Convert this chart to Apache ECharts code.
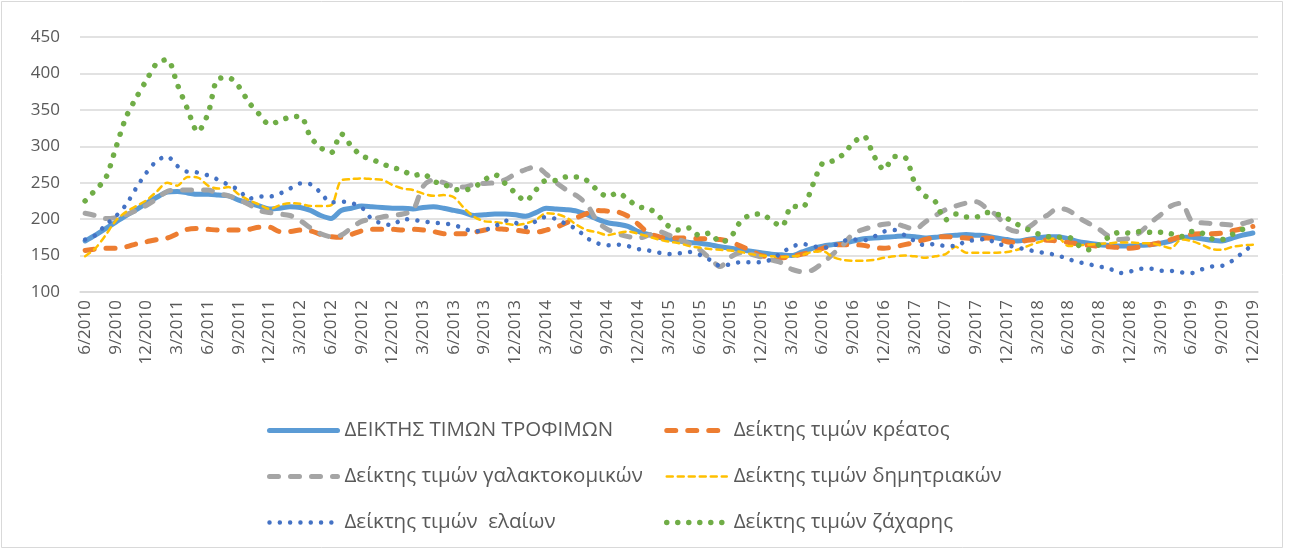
<!DOCTYPE html>
<html>
<head>
<meta charset="utf-8">
<script src="https://cdn.jsdelivr.net/npm/echarts@6/dist/echarts.min.js"></script>
<style>
  html, body { margin: 0; padding: 0; background: #fff; }
  #chart { width: 1291px; height: 550px; }
</style>
</head>
<body>
<div id="chart"></div>
<script>
// monthly categories 6/2010 .. 12/2019
const categories = [];
for (let y = 2010; y <= 2019; y++) {
  for (let m = 1; m <= 12; m++) {
    if (y === 2010 && m < 6) continue;
    categories.push(m + '/' + y);
  }
}

const yTicks = [100, 150, 200, 250, 300, 350, 400, 450];

const seriesNames = [
  'ΔΕΙΚΤΗΣ ΤΙΜΩΝ ΤΡΟΦΙΜΩΝ',
  'Δείκτης τιμών κρέατος',
  'Δείκτης τιμών γαλακτοκομικών',
  'Δείκτης τιμών δημητριακών',
  'Δείκτης τιμών  ελαίων',
  'Δείκτης τιμών ζάχαρης'
];

const foodIndex = [
  170, 178, 187, 196, 205, 213, 222, 230, 237, 238, 236, 234, 234, 233, 232, 226, 222, 218, 214, 215,
  217, 216, 212, 205, 201, 212, 215, 218, 217, 216, 215, 215, 214, 216, 217, 215, 212, 209, 205, 206,
  207, 207, 206, 204, 209, 215, 214, 213, 211, 206, 200, 195, 193, 190, 183, 179, 175, 173, 170, 168,
  167, 165, 162, 160, 158, 156, 154, 152, 151, 150, 155, 160, 163, 165, 167, 170, 173, 174, 175, 176,
  177, 176, 174, 175, 177, 178, 179, 178, 177, 174, 172, 170, 172, 174, 176, 176, 173, 169, 167, 165,
  164, 163, 163, 164, 165, 167, 170, 175, 175, 173, 171, 170, 174, 178, 181
];

const meat = [
  157, 159, 160, 160, 162, 166, 169, 172, 174, 180, 186, 187, 186, 185, 185, 185, 186, 189, 189, 183,
  183, 185, 184, 179, 176, 175, 179, 184, 186, 186, 186, 185, 186, 185, 183, 180, 180, 180, 182, 185,
  187, 186, 185, 183, 182, 185, 189, 195, 202, 208, 212, 211, 210, 204, 193, 181, 176, 174, 174, 174,
  173, 173, 172, 169, 163, 157, 150, 148, 147, 149, 152, 155, 160, 164, 165, 165, 164, 161, 160, 162,
  165, 168, 172, 175, 176, 175, 174, 173, 174, 173, 169, 168, 171, 172, 171, 170, 168, 166, 164, 163,
  162, 161, 160, 162, 165, 168, 172, 176, 179, 180, 180, 181, 184, 187, 190
];

const dairy = [
  208, 205, 201, 202, 206, 212, 219, 228, 238, 240, 240, 240, 240, 235, 232, 227, 220, 212, 209, 207,
  205, 198, 188, 180, 176, 178, 188, 197, 200, 203, 205, 207, 212, 245, 254, 250, 245, 244, 248, 249,
  250, 254, 262, 268, 272, 262, 250, 240, 232, 220, 197, 186, 180, 176, 174, 178, 183, 178, 172, 166,
  158, 146, 135, 148, 154, 152, 148, 144, 140, 131, 128, 130, 140, 152, 165, 180, 186, 190, 193, 194,
  190, 186, 196, 205, 213, 218, 222, 224, 215, 205, 188, 183, 188, 198, 206, 215, 212, 202, 194, 186,
  176, 172, 174, 182, 195, 206, 218, 222, 198, 195, 194, 193, 192, 194, 198
];

const cereals = [
  149, 160, 178, 198, 210, 218, 226, 238, 250, 246, 258, 257, 246, 242, 244, 234, 226, 220, 214, 219,
  222, 221, 218, 218, 219, 253, 255, 256, 255, 254, 247, 242, 240, 235, 232, 233, 230, 215, 203, 197,
  196, 194, 192, 194, 199, 208, 207, 202, 192, 185, 182, 178, 181, 183, 180, 176, 172, 169, 167, 163,
  161, 159, 158, 157, 155, 152, 150, 149, 148, 149, 151, 155, 156, 148, 144, 143, 143, 144, 147, 149,
  150, 149, 147, 149, 152, 162, 154, 154, 154, 154, 155, 158, 163, 168, 172, 174, 163, 164, 165, 166,
  167, 168, 168, 167, 167, 164, 160, 172, 170, 165, 159, 158, 162, 164, 165
];

const oils = [
  172, 178, 192, 204, 220, 243, 264, 280, 286, 273, 265, 264, 260, 254, 247, 240, 228, 231, 231, 235,
  242, 249, 248, 236, 223, 224, 222, 216, 200, 194, 192, 200, 199, 197, 195, 194, 192, 187, 183, 185,
  190, 198, 195, 189, 197, 203, 200, 193, 186, 174, 167, 164, 165, 163, 159, 157, 154, 152, 153, 155,
  151, 144, 136, 138, 141, 141, 141, 145, 154, 162, 166, 163, 161, 163, 170, 172, 171, 176, 183, 185,
  178, 170, 164, 166, 163, 163, 170, 171, 173, 166, 164, 161, 158, 155, 153, 150, 145, 141, 138, 135,
  132, 126, 128, 132, 132, 129, 129, 127, 126, 131, 135, 136, 143, 154, 165
];

const sugar = [
  225, 240, 256, 298, 340, 367, 391, 414, 419, 385, 351, 320, 345, 393, 394, 382, 360, 344, 330, 335,
  340, 341, 313, 298, 291, 317, 300, 287, 282, 276, 271, 267, 260, 262, 252, 248, 241, 240, 244, 254,
  261, 249, 236, 225, 240, 253, 253, 258, 258, 253, 240, 231, 236, 227, 217, 215, 204, 190, 185, 188,
  177, 181, 168, 175, 197, 206, 207, 198, 190, 218, 216, 246, 277, 280, 289, 305, 314, 287, 268, 286,
  285, 250, 232, 224, 199, 207, 203, 203, 209, 207, 201, 193, 186, 180, 176, 175, 175, 164, 158, 165,
  176, 182, 181, 183, 182, 182, 180, 176, 183, 181, 173, 172, 179, 186, 188
];

const colors = ['#5B9BD5', '#ED7D31', '#A5A5A5', '#FFC000', '#4472C4', '#70AD47'];
const FONT = 'Open Sans';
const TEXT = '#595959';

const chartDom = document.getElementById('chart');
const myChart = echarts.init(chartDom, null, { renderer: 'canvas' });

function lineSeries(name, data, color, width, dash) {
  return {
    name: name,
    type: 'line',
    data: data,
    symbol: 'none',
    smooth: 0.3,
    lineStyle: { color: color, width: width, type: dash, cap: 'round', join: 'round' },
    itemStyle: { color: color }
  };
}

function legendColumn(left, itemWidth, names) {
  return {
    orient: 'vertical',
    left: left,
    top: 415,
    itemWidth: itemWidth,
    itemHeight: 20,
    itemGap: 25,
    data: names,
    itemStyle: { opacity: 0 },
    lineStyle: { width: 'inherit' },
    textStyle: { color: TEXT, fontFamily: FONT, fontSize: 20.5, lineHeight: 20, padding: [0, 0, 0, 2] }
  };
}

const option = {
  backgroundColor: '#fff',
  animation: false,
  grid: { left: 80, right: 33, top: 37, bottom: 258 },
  xAxis: {
    type: 'category',
    data: categories,
    boundaryGap: true,
    axisLine: { lineStyle: { color: '#D9D9D9', width: 1.5 } },
    axisTick: { show: false },
    axisLabel: {
      interval: 2,
      rotate: 90,
      margin: 8,
      color: TEXT,
      fontFamily: FONT,
      fontSize: 17
    }
  },
  yAxis: {
    type: 'value',
    min: yTicks[0],
    max: yTicks[yTicks.length - 1],
    interval: 50,
    axisLine: { show: false },
    axisTick: { show: false },
    axisLabel: { color: TEXT, fontFamily: FONT, fontSize: 17, margin: 20 },
    splitLine: { lineStyle: { color: '#D9D9D9', width: 1.5 } }
  },
  legend: [
    legendColumn(262, 68, [seriesNames[0], seriesNames[2], seriesNames[4]]),
    legendColumn(659, 60, [seriesNames[1], seriesNames[3], seriesNames[5]])
  ],
  graphic: [
    {
      type: 'rect',
      silent: true,
      shape: { x: 1.5, y: 1.5, width: 1281, height: 546 },
      style: { fill: null, stroke: '#D9D9D9', lineWidth: 1 }
    }
  ],
  series: [
    lineSeries(seriesNames[0], foodIndex, colors[0], 5, 'solid'),
    lineSeries(seriesNames[1], meat, colors[1], 5, [9, 12]),
    lineSeries(seriesNames[2], dairy, colors[2], 5, [9, 12]),
    lineSeries(seriesNames[3], cereals, colors[3], 2.5, [6, 5]),
    lineSeries(seriesNames[4], oils, colors[4], 4.5, [0.01, 10.3]),
    lineSeries(seriesNames[5], sugar, colors[5], 5.5, [0.01, 11])
  ]
};

myChart.setOption(option);
</script>
</body>
</html>
